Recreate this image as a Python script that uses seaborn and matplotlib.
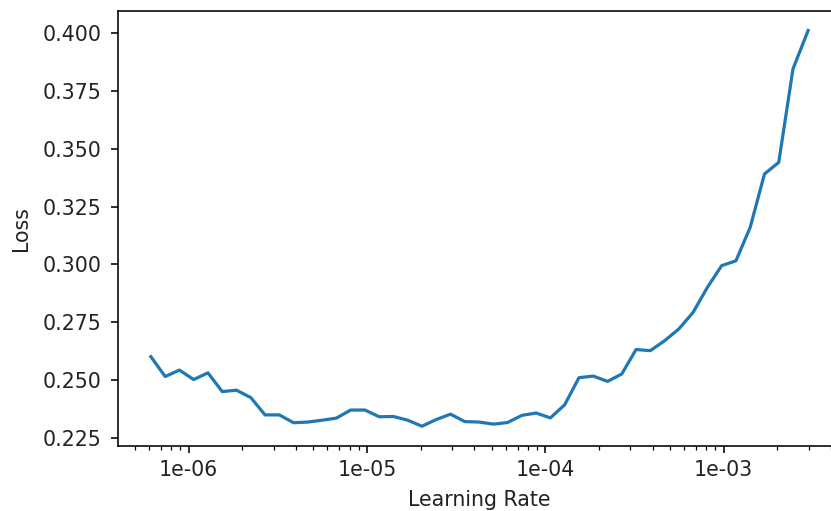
import matplotlib
matplotlib.use("Agg")
import matplotlib.pyplot as plt
import matplotlib.ticker as mticker
import seaborn as sns
import pandas as pd

learning_rates = [
    6.15e-7, 7.40e-7, 8.89e-7, 1.069e-6, 1.285e-6, 1.545e-6, 1.858e-6, 2.234e-6,
    2.686e-6, 3.229e-6, 3.882e-6, 4.668e-6, 5.612e-6, 6.747e-6, 8.112e-6, 9.753e-6,
    1.1726e-5, 1.4098e-5, 1.695e-5, 2.038e-5, 2.450e-5, 2.946e-5, 3.542e-5, 4.258e-5,
    5.120e-5, 6.155e-5, 7.400e-5, 8.897e-5, 1.0697e-4, 1.286e-4, 1.546e-4, 1.859e-4,
    2.235e-4, 2.687e-4, 3.231e-4, 3.884e-4, 4.670e-4, 5.615e-4, 6.751e-4, 8.116e-4,
    9.758e-4, 1.1732e-3, 1.4105e-3, 1.6958e-3, 2.0389e-3, 2.4513e-3, 2.9800e-3,
]
losses = [
    0.2600, 0.2514, 0.2542, 0.2501, 0.2530, 0.2449, 0.2455, 0.2423,
    0.2348, 0.2348, 0.2314, 0.2317, 0.2325, 0.2334, 0.2369, 0.2369,
    0.2340, 0.2341, 0.2325, 0.2299, 0.2328, 0.2351, 0.2319, 0.2317,
    0.2308, 0.2315, 0.2346, 0.2356, 0.2335, 0.2392, 0.2509, 0.2516,
    0.2493, 0.2525, 0.2631, 0.2626, 0.2669, 0.2720, 0.2792, 0.2900,
    0.2994, 0.3015, 0.3160, 0.3391, 0.3441, 0.3846, 0.4012,
]
x_label = "Learning Rate"
y_label = "Loss"

df = pd.DataFrame({"lr": learning_rates, "loss": losses})

FS = 14.8
fig = plt.figure(figsize=(8.31, 5.11), dpi=100)
ax = fig.add_axes([118 / 831, 1 - 446 / 511, (841 - 118) / 831, (446 - 10.7) / 511])

sns.lineplot(data=df, x="lr", y="loss", ax=ax, color="#1f77b4", linewidth=2.3)
ax.set_xscale("log")
ax.xaxis.set_major_formatter(mticker.FuncFormatter(lambda v, p: "%.0e" % v))
ax.yaxis.set_major_locator(mticker.MultipleLocator(0.025))
ax.yaxis.set_major_formatter(mticker.FormatStrFormatter("%.3f"))

ax.set_xlabel(x_label, fontsize=FS, labelpad=7, color="#222222")
ax.set_ylabel(y_label, fontsize=FS, labelpad=8, color="#222222")
ax.tick_params(axis="both", which="major", labelsize=FS, length=5, width=1.15,
               labelcolor="#222222")
ax.tick_params(axis="y", which="major", pad=7)
ax.tick_params(axis="x", which="major", pad=5)
ax.tick_params(axis="both", which="minor", length=2.9, width=0.9)
for s in ax.spines.values():
    s.set_linewidth(1.15)

fig.savefig("out.png", dpi=100)
